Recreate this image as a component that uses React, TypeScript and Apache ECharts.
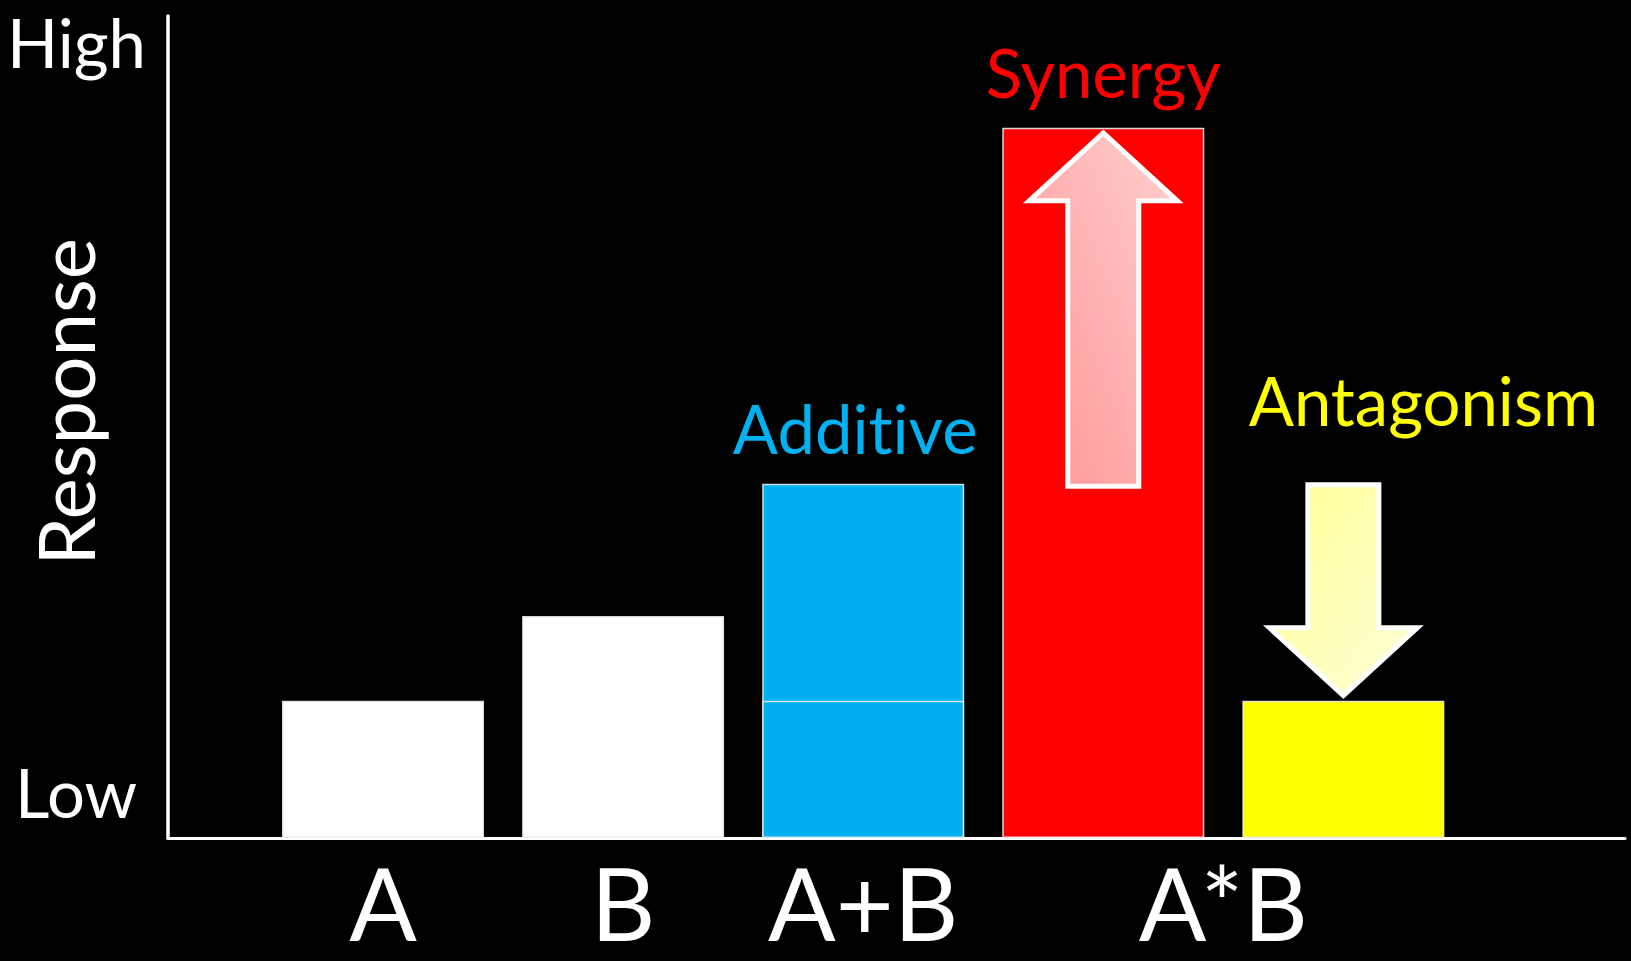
import React, { useEffect, useRef } from "react";
import * as echarts from "echarts";

// ---- data (response in arbitrary units, 0 = Low, 100 = High) ----
const categoryTicks = [1, 2, 3, 4.5];
const categoryLabels = ["A", "B", "A+B", "A*B"];

const singleSlots = [1, 2, 4, 5];
const singleNames = ["A", "B", "A*B (synergy)", "A*B (antagonism)"];
const singleValues = [16.7, 27.0, 86.4, 16.7];

const additiveSlot = 3;
const additiveParts = [16.7, 26.4]; // A part, B part (stacked)

const arrowSlots = [4, 5];
const arrowFrom = [43.1, 43.1]; // expected additive level
const arrowTo = [86.4, 16.7]; // observed combined response
const arrowLabels = ["", "Antagonism"];

const FONT = "Lato, 'Noto Sans', sans-serif";
const singleColors = ["#FFFFFF", "#FFFFFF", "#FF0000", "#FFFF00"];

export default function App() {
  const ref = useRef<HTMLDivElement>(null);

  useEffect(() => {
    document.body.style.margin = "0";
    document.body.style.background = "#000";
    const chart = echarts.init(ref.current!, undefined, { renderer: "svg" });

    const upGrad = new echarts.graphic.LinearGradient(1, 0, 0, 1, [
      { offset: 0, color: "#FFD0D0" },
      { offset: 1, color: "#FF9494" },
    ]);
    const downGrad = new echarts.graphic.LinearGradient(0, 0, 1, 1, [
      { offset: 0, color: "#FFFF94" },
      { offset: 1, color: "#FFFFDA" },
    ]);

    const additiveTotal = additiveParts[0] + additiveParts[1];
    const border = { borderColor: "rgba(235,235,235,0.9)", borderWidth: 1.5 };

    const option: any = {
      animation: false,
      backgroundColor: "#000",
      textStyle: { fontFamily: FONT },
      grid: {
        left: 168,
        right: 6,
        top: 16,
        bottom: 123,
        containLabel: false,
        outerBoundsMode: "none",
      },
      xAxis: {
        type: "value",
        min: 0.1045,
        max: 6.173,
        axisLine: { show: true, onZero: false, lineStyle: { color: "#FFFFFF", width: 3 } },
        axisTick: { show: false },
        splitLine: { show: false },
        axisLabel: {
          show: true,
          customValues: categoryTicks,
          formatter: (v: number) => {
            const i = categoryTicks.indexOf(v);
            return i >= 0 ? categoryLabels[i] : "";
          },
          color: "#FFFFFF",
          fontSize: 100,
          lineHeight: 76,
          fontFamily: FONT,
          margin: 64,
          verticalAlign: "middle",
        },
      },
      yAxis: {
        type: "value",
        min: 0,
        max: 100,
        axisLine: { show: true, onZero: false, lineStyle: { color: "#FFFFFF", width: 3.5 } },
        axisTick: { show: false },
        splitLine: { show: false },
        axisLabel: { show: false },
      },
      graphic: [
        {
          type: "text",
          x: 146,
          y: 42,
          style: {
            text: "High",
            fill: "#FFFFFF",
            fontSize: 67,
            lineHeight: 64,
            fontFamily: FONT,
            align: "right",
            textAlign: "right",
            verticalAlign: "middle",
            textVerticalAlign: "middle",
          },
        },
        {
          type: "text",
          x: 15,
          y: 792,
          style: {
            text: "Low",
            fill: "#FFFFFF",
            fontSize: 67,
            fontFamily: FONT,
            align: "left",
            textAlign: "left",
            verticalAlign: "middle",
            textVerticalAlign: "middle",
          },
        },
        {
          type: "text",
          x: 65,
          y: 402,
          rotation: Math.PI / 2,
          style: {
            text: "Response",
            fill: "#FFFFFF",
            fontSize: 78,
            fontFamily: FONT,
            align: "center",
            textAlign: "center",
            verticalAlign: "middle",
            textVerticalAlign: "middle",
          },
        },
      ],
      series: [
        {
          name: "single",
          type: "bar",
          barWidth: 202,
          barGap: "-100%",
          z: 2,
          data: singleSlots.map((x, i) => ({
            name: singleNames[i],
            value: [x, singleValues[i]],
            itemStyle: { color: singleColors[i], ...border },
            label:
              i === 2
                ? {
                    show: true,
                    position: "top",
                    distance: 56,
                    formatter: "Synergy",
                    color: "#FF0000",
                    fontSize: 67,
                    fontFamily: FONT,
                    verticalAlign: "middle",
                  }
                : { show: false },
          })),
        },
        {
          name: "Additive (A+B)",
          type: "bar",
          barWidth: 202,
          barGap: "-100%",
          z: 2,
          itemStyle: { color: "#00B0F0", ...border },
          label: {
            show: true,
            position: "top",
            distance: 56,
            offset: [-8, 0],
            formatter: "Additive",
            color: "#00B0F0",
            fontSize: 67,
            fontFamily: FONT,
            verticalAlign: "middle",
          },
          data: [[additiveSlot, additiveTotal]],
        },
        {
          name: "Additive (A part)",
          type: "bar",
          barWidth: 202,
          barGap: "-100%",
          z: 3,
          itemStyle: { color: "#00B0F0", ...border },
          data: [[additiveSlot, additiveParts[0]]],
        },
        {
          name: "arrows",
          type: "custom",
          z: 10,
          encode: { x: 0, y: [1, 2] },
          data: arrowSlots.map((x, i) => [x, arrowFrom[i], arrowTo[i]]),
          renderItem: (params: any, api: any) => {
            const idx = params.dataIndex;
            const x = api.value(0);
            const p0 = api.coord([x, api.value(1)]);
            const p1 = api.coord([x, api.value(2)]);
            const dir = p1[1] < p0[1] ? -1 : 1;
            const cx = p0[0];
            const hs = 35.5;
            const hh = 74;
            const headLen = 68;
            const startY = p0[1] + (dir < 0 ? 2.5 : 1);
            const tipY = p1[1] - dir * 5;
            const baseY = tipY - dir * headLen;
            const pts = [
              [cx - hs, startY],
              [cx - hs, baseY],
              [cx - hh, baseY],
              [cx, tipY],
              [cx + hh, baseY],
              [cx + hs, baseY],
              [cx + hs, startY],
            ];
            const children: any[] = [
              {
                type: "polygon",
                z2: 10,
                shape: { points: pts },
                style: {
                  fill: dir < 0 ? upGrad : downGrad,
                  stroke: "#FFFFFF",
                  lineWidth: 5,
                  lineJoin: "miter",
                },
              },
            ];
            if (arrowLabels[idx]) {
              children.push({
                type: "text",
                x: cx + 80,
                y: Math.min(startY, tipY) - 85,
                style: {
                  text: arrowLabels[idx],
                  fill: "#FFFF00",
                  fontSize: 67,
                  fontFamily: FONT,
                  align: "center",
                  verticalAlign: "middle",
                },
              });
            }
            return { type: "group", children };
          },
        },
      ],
    };

    chart.setOption(option);
    return () => chart.dispose();
  }, []);

  return (
    <div
      ref={ref}
      style={{
        position: "fixed",
        left: 0,
        top: 0,
        width: 1631,
        height: 961,
        background: "#000",
        fontVariantLigatures: "none",
      }}
    />
  );
}
